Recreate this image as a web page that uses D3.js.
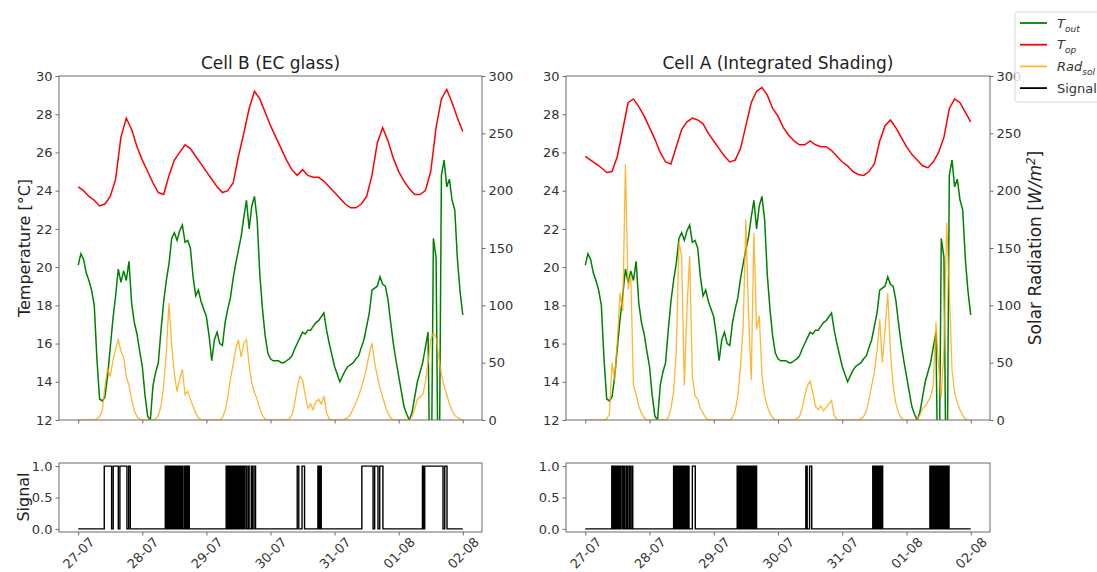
<!DOCTYPE html>
<meta charset="utf-8">

<!-- Load d3.js -->
<script src="https://d3js.org/d3.v7.min.js"></script>

<style>
  body { margin: 0; background: #fff; }
  text { font-family: "DejaVu Sans", sans-serif; }
</style>

<!-- Create a div where the graph will take place -->
<div id="my_dataviz"></div>

<script>

// x axis: one tick per day, data is in hours from 27-07 00:00
var dayLabels = ["27-07", "28-07", "29-07", "30-07", "31-07", "01-08", "02-08"];
var dayHours = [0, 24, 48, 72, 96, 120, 144];

// outdoor temperature, hourly h0..h144 (same sensor for both cells)
var tOut = [20.1, 20.7, 20.4, 19.7, 19.3, 18.8, 18.0, 15.2, 13.1, 13.0,
  13.2, 14.3, 15.8, 17.3, 18.5, 19.9, 19.2, 19.8, 19.3, 20.3,
  18.1, 17.1, 16.5, 15.6, 14.8, 13.3, 12.2, 12.0, 13.8, 14.5,
  15.0, 16.7, 18.2, 19.3, 20.2, 21.5, 21.8, 21.4, 21.9, 22.2,
  21.3, 21.4, 21.0, 19.5, 18.5, 18.8, 18.2, 17.8, 17.4, 16.4,
  15.1, 16.2, 16.6, 16.0, 15.9, 17.1, 17.8, 18.4, 19.4, 20.2,
  20.9, 21.6, 22.6, 23.5, 22.0, 23.2, 23.7, 22.5, 19.6, 17.8,
  16.4, 15.5, 15.2, 15.1, 15.1, 15.1, 15.0, 15.0, 15.1, 15.2,
  15.35, 15.7, 16.0, 16.3, 16.6, 16.5, 16.7, 16.7, 16.9, 17.1,
  17.2, 17.4, 17.6, 16.7, 16.0, 15.4, 14.8, 14.4, 14.0, 14.3,
  14.6, 14.8, 14.9, 15.0, 15.2, 15.35, 15.8, 16.2, 16.9, 17.6,
  18.8, 18.9, 19.0, 19.5, 19.1, 19.0, 18.3, 17.1, 16.0, 15.1,
  14.3, 13.5, 12.7, 12.3, 12.0, 12.4, 13.2, 14.0, 14.5, 15.0,
  15.8, 16.6, 5.0, 21.5, 20.5, 5.0, 24.8, 25.6, 24.2, 24.6,
  23.5, 23.0, 20.4, 18.7, 17.5];

// operative temperature, every 2 h (h0, h2, ... h144)
var tOpB = [24.2, 24.0, 23.7, 23.5, 23.2, 23.3, 23.7, 24.6, 26.8, 27.8,
  27.2, 26.3, 25.6, 25.0, 24.4, 23.9, 23.8, 24.8, 25.6, 26.0,
  26.4, 26.2, 25.8, 25.4, 25.0, 24.6, 24.2, 23.9, 24.0, 24.4,
  25.8, 27.0, 28.3, 29.2, 28.8, 28.1, 27.4, 26.8, 26.2, 25.6,
  25.1, 24.8, 25.1, 24.8, 24.7, 24.7, 24.5, 24.2, 23.9, 23.6,
  23.3, 23.1, 23.1, 23.3, 23.7, 24.8, 26.5, 27.3, 26.6, 25.7,
  25.0, 24.5, 24.1, 23.8, 23.8, 24.0, 25.0, 27.3, 28.8, 29.3,
  28.6, 27.8, 27.1];
var tOpA = [25.8, 25.6, 25.4, 25.2, 24.95, 25.0, 25.8, 27.2, 28.6, 28.8,
  28.4, 27.9, 27.3, 26.7, 26.0, 25.5, 25.4, 26.3, 27.2, 27.6,
  27.8, 27.7, 27.5, 27.0, 26.6, 26.2, 25.8, 25.5, 25.6, 26.2,
  27.4, 28.6, 29.2, 29.4, 29.0, 28.3, 27.9, 27.3, 26.9, 26.6,
  26.4, 26.4, 26.6, 26.4, 26.3, 26.3, 26.1, 25.8, 25.5, 25.3,
  25.0, 24.85, 24.8, 25.0, 25.4, 26.6, 27.4, 27.7, 27.3, 26.8,
  26.3, 25.9, 25.6, 25.3, 25.2, 25.5, 26.0, 26.8, 28.3, 28.8,
  28.6, 28.1, 27.6];

// solar radiation inside the cell [W/m2], hourly h0..h144
var radB = [0, 0, 0, 0, 0, 0, 0, 1, 3, 8,
  30, 45, 38, 52, 62, 70, 60, 55, 38, 30,
  18, 8, 3, 1, 0, 0, 0, 0, 0, 1,
  4, 12, 30, 60, 102, 65, 40, 25, 36, 44,
  22, 25, 18, 12, 6, 2, 0, 0, 0, 0,
  0, 0, 0, 0, 2, 8, 20, 36, 48, 62,
  70, 55, 67, 70, 48, 32, 24, 18, 10, 4,
  1, 0, 0, 0, 0, 0, 0, 0, 0, 1,
  4, 14, 28, 38, 35, 22, 10, 14, 9, 16,
  18, 14, 21, 6, 1, 0, 0, 0, 0, 0,
  1, 2, 5, 10, 15, 21, 28, 36, 46, 58,
  67, 50, 38, 28, 20, 12, 6, 2, 0, 0,
  0, 0, 0, 0, 0, 3, 10, 18, 20, 22,
  33, 50, 70, 76, 72, 55, 40, 30, 22, 14,
  8, 4, 2, 1, 0];
var radA = [0, 0, 0, 0, 0, 0, 0, 0, 1, 5,
  50, 35, 70, 111, 95, 223, 114, 126, 30, 22,
  12, 6, 2, 0, 0, 0, 0, 0, 0, 0,
  0, 2, 10, 25, 60, 155, 143, 30, 97, 143,
  38, 21, 18, 10, 6, 2, 0, 0, 0, 0,
  0, 0, 0, 0, 0, 2, 8, 21, 47, 82,
  175, 91, 35, 163, 79, 91, 40, 21, 12, 6,
  2, 0, 0, 0, 0, 0, 0, 0, 0, 1,
  3, 10, 21, 30, 34, 24, 12, 9, 12, 8,
  11, 14, 17, 4, 0, 0, 0, 0, 0, 0,
  0, 0, 0, 1, 3, 8, 18, 30, 42, 60,
  88, 50, 78, 111, 60, 30, 15, 6, 2, 0,
  0, 0, 0, 0, 1, 4, 10, 12, 16, 20,
  30, 85, 47, 20, 62, 172, 114, 44, 24, 15,
  9, 4, 1, 0, 0];

// control signal: switching times in hours (on, off, on, off ...)
var sigB = [9.75, 12.5, 13.1, 15.0, 15.6, 18.25, 18.9, 19.5,
  32.6, 32.9, 33.1, 33.4, 33.6, 33.9, 34.0, 34.3, 34.5, 34.8, 35.0, 35.3,
  35.5, 35.8, 36.0, 36.3, 36.5, 36.8, 37.0, 37.3, 37.5, 37.8, 38.3, 38.5,
  39.0, 39.2, 39.8, 40.1, 40.3, 40.6, 40.8, 41.1, 41.3, 41.6,
  55.4, 55.7, 55.9, 56.2, 56.4, 56.7, 56.9, 57.2, 57.4, 57.7, 57.9, 58.2,
  58.4, 58.7, 58.9, 59.2, 59.4, 59.7, 59.9, 60.2, 60.4, 60.7, 60.9, 61.2,
  61.4, 61.7, 61.9, 62.2, 62.4, 63.0, 63.6, 64.0, 64.8, 65.2, 65.8, 66.4,
  82.0, 82.6, 83.8, 84.75, 89.75, 90.1, 90.6, 91.0,
  106.2, 110.4, 111.0, 112.25, 112.9, 114.1,
  128.9, 129.4, 129.75, 136.6, 137.25, 138.1];
var sigA = [9.9, 10.2, 10.4, 10.7, 10.9, 11.2, 11.4, 11.7, 11.9, 12.2, 12.4, 12.7,
  12.9, 13.2, 13.4, 14.0, 14.4, 14.6, 15.2, 15.5, 15.7, 15.9, 16.5, 16.8, 17.4, 17.75,
  33.0, 33.3, 33.5, 33.8, 34.0, 34.3, 34.5, 34.8, 35.0, 35.3, 35.5, 35.8,
  36.0, 36.3, 36.5, 36.8, 37.0, 37.3, 37.5, 37.8, 38.0, 38.3, 38.5, 38.75, 40.0, 41.1,
  56.75, 57.0, 57.2, 57.5, 57.7, 58.0, 58.2, 58.5, 58.7, 59.0, 59.2, 59.5,
  59.7, 60.0, 60.2, 60.5, 60.7, 61.0, 61.2, 61.5, 61.7, 62.0, 62.2, 62.5,
  62.7, 63.0, 63.2, 63.5, 63.7, 64.0,
  82.4, 82.9, 83.8, 84.6,
  107.4, 107.7, 107.9, 108.2, 108.4, 108.7, 108.9, 109.2, 109.4, 109.7,
  109.9, 110.2, 110.4, 110.7, 110.9, 111.1,
  128.75, 129.1, 129.5, 129.8, 130.0, 130.3, 130.5, 130.8, 131.0, 131.3,
  131.5, 131.8, 132.0, 132.3, 132.5, 132.8, 133.0, 133.3, 133.5, 133.8,
  134.0, 134.3, 134.5, 134.8, 135.0, 135.3, 135.5, 135.9];

var tempTicks = [12, 14, 16, 18, 20, 22, 24, 26, 28, 30];
var radTicks = [0, 50, 100, 150, 200, 250, 300];
var sigTicks = [0, 0.5, 1];

var spineColor = "#6b6b6b", textColor = "#333";

// append the svg object to the body of the page
var svg = d3.select("#my_dataviz")
  .append("svg")
    .attr("width", 1097)
    .attr("height", 572);

// style an axis group the same way everywhere
function styleAxis(g) {
  g.select(".domain").remove();
  g.selectAll(".tick line").attr("stroke", spineColor);
  g.selectAll(".tick text").attr("fill", textColor).style("font-size", "13px");
}

function drawCell(cfg) {
  var top = 76, bottom = 420, sTop = 463, sBottom = 532;

  var x = d3.scaleLinear().domain([-7.2, 151.2]).range([cfg.left, cfg.right]);
  var yT = d3.scaleLinear().domain([12, 30]).range([bottom, top]);
  var yR = d3.scaleLinear().domain([0, 300]).range([bottom, top]);
  var yS = d3.scaleLinear().domain([-0.05, 1.05]).range([sBottom, sTop]);

  var clipId = "clip" + cfg.id;
  svg.append("clipPath").attr("id", clipId)
    .append("rect")
      .attr("x", cfg.left).attr("y", top)
      .attr("width", cfg.right - cfg.left).attr("height", bottom - top);

  var plot = svg.append("g").attr("clip-path", "url(#" + clipId + ")");

  // outdoor temperature
  plot.append("path")
    .datum(tOut)
    .attr("d", d3.line()
      .x(function(d, i) { return x(i) })
      .y(function(d) { return yT(d) }))
    .attr("stroke", "green")
    .style("stroke-width", 1.5)
    .style("fill", "none");

  // operative temperature
  plot.append("path")
    .datum(cfg.tOp)
    .attr("d", d3.line()
      .x(function(d, i) { return x(i * 2) })
      .y(function(d) { return yT(d) }))
    .attr("stroke", "red")
    .style("stroke-width", 1.5)
    .style("fill", "none");

  // solar radiation on the twin axis
  plot.append("path")
    .datum(cfg.rad)
    .attr("d", d3.line()
      .x(function(d, i) { return x(i) })
      .y(function(d) { return yR(d) }))
    .attr("stroke", "orange")
    .attr("stroke-opacity", 0.8)
    .style("stroke-width", 1.3)
    .style("fill", "none");

  // axes of the top plot
  svg.append("g")
    .attr("transform", "translate(" + cfg.left + ",0)")
    .call(d3.axisLeft(yT).tickValues(tempTicks).tickSize(3.5).tickPadding(3))
    .call(styleAxis);
  svg.append("g")
    .attr("transform", "translate(" + cfg.right + ",0)")
    .call(d3.axisRight(yR).tickValues(radTicks).tickSize(3.5).tickPadding(3))
    .call(styleAxis);
  svg.append("g")
    .attr("transform", "translate(0," + bottom + ")")
    .call(d3.axisBottom(x).tickValues(dayHours).tickFormat("").tickSize(3.5))
    .call(styleAxis);

  svg.append("rect")
    .attr("x", cfg.left).attr("y", top)
    .attr("width", cfg.right - cfg.left).attr("height", bottom - top)
    .attr("fill", "none").attr("stroke", spineColor);

  svg.append("text")
    .attr("x", (cfg.left + cfg.right) / 2)
    .attr("y", top - 7)
    .attr("text-anchor", "middle")
    .attr("fill", "#222")
    .style("font-size", "17px")
    .text(cfg.title);

  // signal as a step line built from the switching times
  var pts = [[0, 0]];
  cfg.sig.forEach(function(t, i) { pts.push([t, i % 2 == 0 ? 1 : 0]) });
  pts.push([144, 0]);

  svg.append("path")
    .datum(pts)
    .attr("d", d3.line()
      .curve(d3.curveStepAfter)
      .x(function(d) { return x(d[0]) })
      .y(function(d) { return yS(d[1]) }))
    .attr("stroke", "black")
    .style("stroke-width", 1.4)
    .style("fill", "none");

  svg.append("g")
    .attr("transform", "translate(" + cfg.left + ",0)")
    .call(d3.axisLeft(yS).tickValues(sigTicks).tickFormat(d3.format(".1f")).tickSize(3.5).tickPadding(3))
    .call(styleAxis);

  var xAx = svg.append("g")
    .attr("transform", "translate(0," + sBottom + ")")
    .call(d3.axisBottom(x).tickValues(dayHours)
      .tickFormat(function(d, i) { return dayLabels[i] }).tickSize(3.5))
    .call(styleAxis);
  xAx.selectAll(".tick text")
    .attr("y", 0).attr("dy", "0.35em")
    .attr("transform", "translate(0,21) rotate(-45)")
    .style("text-anchor", "middle");

  svg.append("rect")
    .attr("x", cfg.left).attr("y", sTop)
    .attr("width", cfg.right - cfg.left).attr("height", sBottom - sTop)
    .attr("fill", "none").attr("stroke", spineColor);
}

drawCell({id: "B", left: 59, right: 482, title: "Cell B (EC glass)", tOp: tOpB, rad: radB, sig: sigB});
drawCell({id: "A", left: 566, right: 990, title: "Cell A (Integrated Shading)", tOp: tOpA, rad: radA, sig: sigA});

// axis labels
svg.append("text")
  .attr("transform", "translate(30,248) rotate(-90)")
  .attr("text-anchor", "middle")
  .attr("fill", "#222")
  .style("font-size", "16px")
  .text("Temperature [°C]");

svg.append("text")
  .attr("transform", "translate(29,497) rotate(-90)")
  .attr("text-anchor", "middle")
  .attr("fill", "#222")
  .style("font-size", "16px")
  .text("Signal");

var solar = svg.append("text")
  .attr("transform", "translate(1041,248) rotate(-90)")
  .attr("text-anchor", "middle")
  .attr("fill", "#222")
  .style("font-size", "17px");
solar.append("tspan").text("Solar Radiation [");
solar.append("tspan").style("font-style", "italic").text("W/m");
solar.append("tspan").attr("dy", -6).style("font-size", "12px").style("font-style", "italic").text("2");
solar.append("tspan").attr("dy", 6).text("]");

// legend
var legendItems = [
  {name: "T", sub: "out", color: "green", op: 1},
  {name: "T", sub: "op", color: "red", op: 1},
  {name: "Rad", sub: "sol", color: "orange", op: 0.8},
  {name: "Signal", sub: "", color: "black", op: 1}
];

svg.append("rect")
  .attr("x", 1015).attr("y", 12)
  .attr("width", 100).attr("height", 90)
  .attr("rx", 3)
  .attr("fill", "white").attr("fill-opacity", 0.8)
  .attr("stroke", "#d8d8d8");

var leg = svg.selectAll(".leg")
  .data(legendItems)
  .enter()
  .append("g")
    .attr("transform", function(d, i) { return "translate(1020," + (23 + i * 21.7) + ")" });

leg.append("line")
  .attr("x1", 0).attr("x2", 27)
  .attr("stroke", function(d) { return d.color })
  .attr("stroke-opacity", function(d) { return d.op })
  .style("stroke-width", 1.8);

var legText = leg.append("text")
  .attr("x", 37).attr("dy", "0.35em")
  .attr("fill", textColor)
  .style("font-size", "13px");
legText.append("tspan")
  .style("font-style", function(d) { return d.sub ? "italic" : "normal" })
  .text(function(d) { return d.name });
legText.append("tspan")
  .attr("dy", 4)
  .style("font-size", "9px")
  .style("font-style", "italic")
  .text(function(d) { return d.sub });

</script>
